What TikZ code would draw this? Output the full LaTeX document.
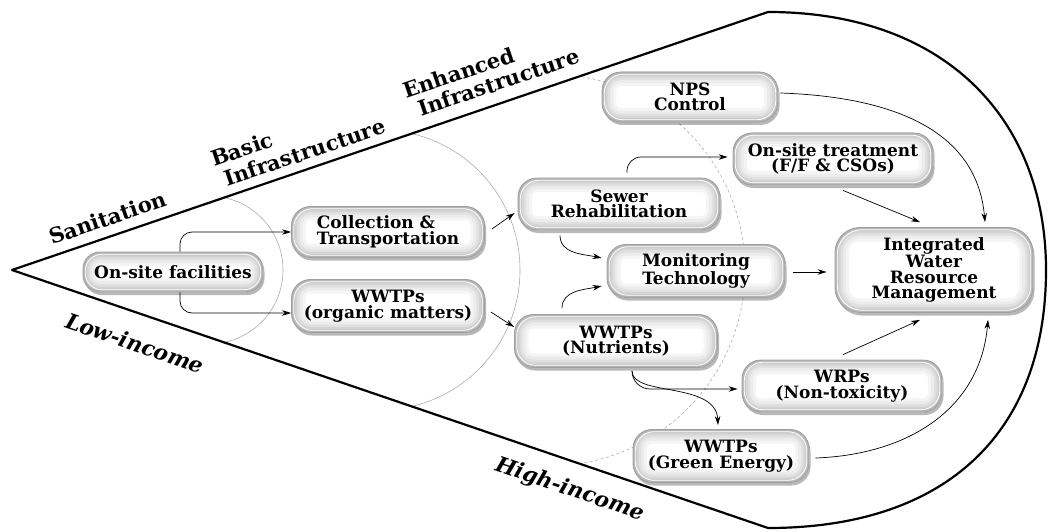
\documentclass[tikz,border=0pt]{standalone}
\usepackage{fontspec}
\setmainfont{DejaVu Serif}
\usetikzlibrary{arrows.meta,shadows}

\tikzset{
  box/.style={
    draw=gray!75, line width=0.8pt, rounded corners=#1,
    fill=white, align=center, inner sep=2pt,
    font=\fontsize{17}{15.5}\selectfont\bfseries,
    drop shadow={shadow xshift=1.5pt, shadow yshift=-3pt, fill=black, opacity=0.28},
    path picture={
      \foreach \w/\c in {28/8, 22/15, 16/24, 11/34, 7/45, 3.5/58}
        \draw[gray!\c, line width=\w pt, rounded corners=#1]
          (path picture bounding box.south west) rectangle (path picture bounding box.north east);
      \draw[white, line width=0.8pt, rounded corners=#1]
        ([xshift=2.2pt,yshift=2.2pt]path picture bounding box.south west)
        rectangle ([xshift=-2.2pt,yshift=-2.2pt]path picture bounding box.north east);
    }
  },
  box/.default=19pt,
  toplab/.style={font=\fontsize{21}{23}\selectfont\bfseries, inner sep=0pt,
    anchor=base west, rotate=18.84},
  botlab/.style={font=\fontsize{21.5}{23}\selectfont\bfseries\itshape, inner sep=0pt,
    rotate=-18.84},
  frame/.style={line width=2.2pt, line cap=round, line join=round},
  ring/.style={gray!65, line width=0.6pt},
  arr/.style={line width=0.7pt, -{Stealth[length=9pt, width=5.5pt]}},
}

\begin{document}
\begin{tikzpicture}[x=1pt, y=1pt]
\useasboundingbox (0,0) rectangle (1048,531);

% funnel outline
\coordinate (apex) at (12,261);
\coordinate (topc) at (768,519);
\coordinate (botc) at (768,3);
\coordinate (rightc) at (1046,261);

% stage boundaries inside the funnel
\begin{scope}
  \clip (topc) -- (apex) -- (botc) -- cycle;
  \draw[ring] (209,261) ++(-85:74) arc[start angle=-85, end angle=85, radius=74];
  \draw[ring] (380,261) ++(-85:140) arc[start angle=-85, end angle=85, radius=140];
  \draw[ring, dash pattern=on 3pt off 2.5pt] (549,261) ++(-86:196) arc[start angle=-86, end angle=86, radius=196];
\end{scope}

\draw[frame] (topc) -- (apex) -- (botc)
  .. controls (948,3) and (1046,100) .. (rightc)
  .. controls (1046,412) and (945,519) .. (topc);

% stage labels
\node[toplab] (lsan) at (52,286) {Sanitation};
\node[toplab] (lbas1) at (214,364) {Basic};
\node[toplab] (lbas2) at (227,344) {Infrastructure};
\node[toplab] (lenh1) at (406,432) {Enhanced};
\node[toplab] (lenh2) at (421,414) {Infrastructure};
\node[botlab] (llow) at (135,188) {Low-income};
\node[botlab] (lhigh) at (570,41) {High-income};

% technology boxes
\node[box=17pt, minimum width=180pt, minimum height=40pt] (onsite) at (173,259) {On-site facilities};
\node[box, minimum width=193pt, minimum height=51pt, align=left] (collect) at (388,299) {Collection \&\\Transportation};
\node[box, minimum width=193pt, minimum height=53pt] (wwtpo) at (388,225) {WWTPs\\(organic matters)};
\node[box, minimum width=202pt, minimum height=52pt] (sewer) at (619,327) {Sewer\\Rehabilitation};
\node[box, minimum width=178pt, minimum height=53pt] (monitor) at (696,260) {Monitoring\\Technology};
\node[box, minimum width=203pt, minimum height=53pt] (nutr) at (616,190) {WWTPs\\(Nutrients)};
\node[box, minimum width=176pt, minimum height=50pt] (nps) at (690,434) {NPS\\Control};
\node[box, minimum width=200pt, minimum height=52pt] (ostreat) at (833,372) {On-site treatment\\(F/F \& CSOs)};
\node[box=25pt, minimum width=198pt, minimum height=85pt] (iwrm) at (934,261) {Integrated\\Water\\Resource\\Management};
\node[box, minimum width=200pt, minimum height=52pt] (wrps) at (842,145) {WRPs\\(Non-toxicity)};
\node[box, minimum width=176pt, minimum height=53pt] (green) at (721,75) {WWTPs\\(Green Energy)};

% connectors
\draw[arr, rounded corners=12pt] ([xshift=7pt]onsite.north) |- (collect.west);
\draw[arr, rounded corners=12pt] ([xshift=7pt]onsite.south) |- ([yshift=-7pt]wwtpo.west);
\draw[arr] ([xshift=7pt,yshift=3pt]collect.east) -- ([xshift=-3pt,yshift=-9pt]sewer.west);
\draw[arr] ([xshift=6pt,yshift=-6pt]wwtpo.east) -- ([yshift=14pt]nutr.west);
\draw[arr] ([xshift=-59pt,yshift=-5pt]sewer.south) to[out=-90, in=168] ([xshift=-5pt,yshift=13pt]monitor.west);
\draw[arr] ([xshift=-54pt,yshift=6pt]nutr.north) to[out=90, in=192] ([xshift=-5pt,yshift=-15pt]monitor.west);
\draw[arr, rounded corners=14pt] ([xshift=8pt,yshift=5pt]sewer.north) |- ([xshift=-5pt,yshift=2pt]ostreat.west);
\draw[arr] ([xshift=2pt,yshift=4pt]nps.east) to[out=-2, in=95, looseness=1.05] ([xshift=51pt,yshift=5pt]iwrm.north);
\draw[arr] ([xshift=10pt,yshift=-5pt]ostreat.south) -- ([xshift=-14pt,yshift=5pt]iwrm.north);
\draw[arr] ([xshift=8pt,yshift=-1pt]monitor.east) -- ([xshift=-8pt,yshift=-2pt]iwrm.west);
\draw[arr, rounded corners=18pt] ([xshift=16pt,yshift=-3pt]nutr.south) |- ([xshift=-4pt,yshift=-3pt]wrps.west);
\draw[arr] ([xshift=16pt,yshift=-3pt]nutr.south) .. controls +(0,-26) and +(-2,44) .. ([xshift=-3pt,yshift=4pt]green.north);
\draw[arr] ([xshift=1pt,yshift=5pt]wrps.north) -- ([xshift=-14pt,yshift=-7pt]iwrm.south);
\draw[arr] ([xshift=6pt,yshift=-2pt]green.east) to[out=2, in=-95, looseness=1.05] ([xshift=54pt,yshift=-7pt]iwrm.south);

\end{tikzpicture}
\end{document}
